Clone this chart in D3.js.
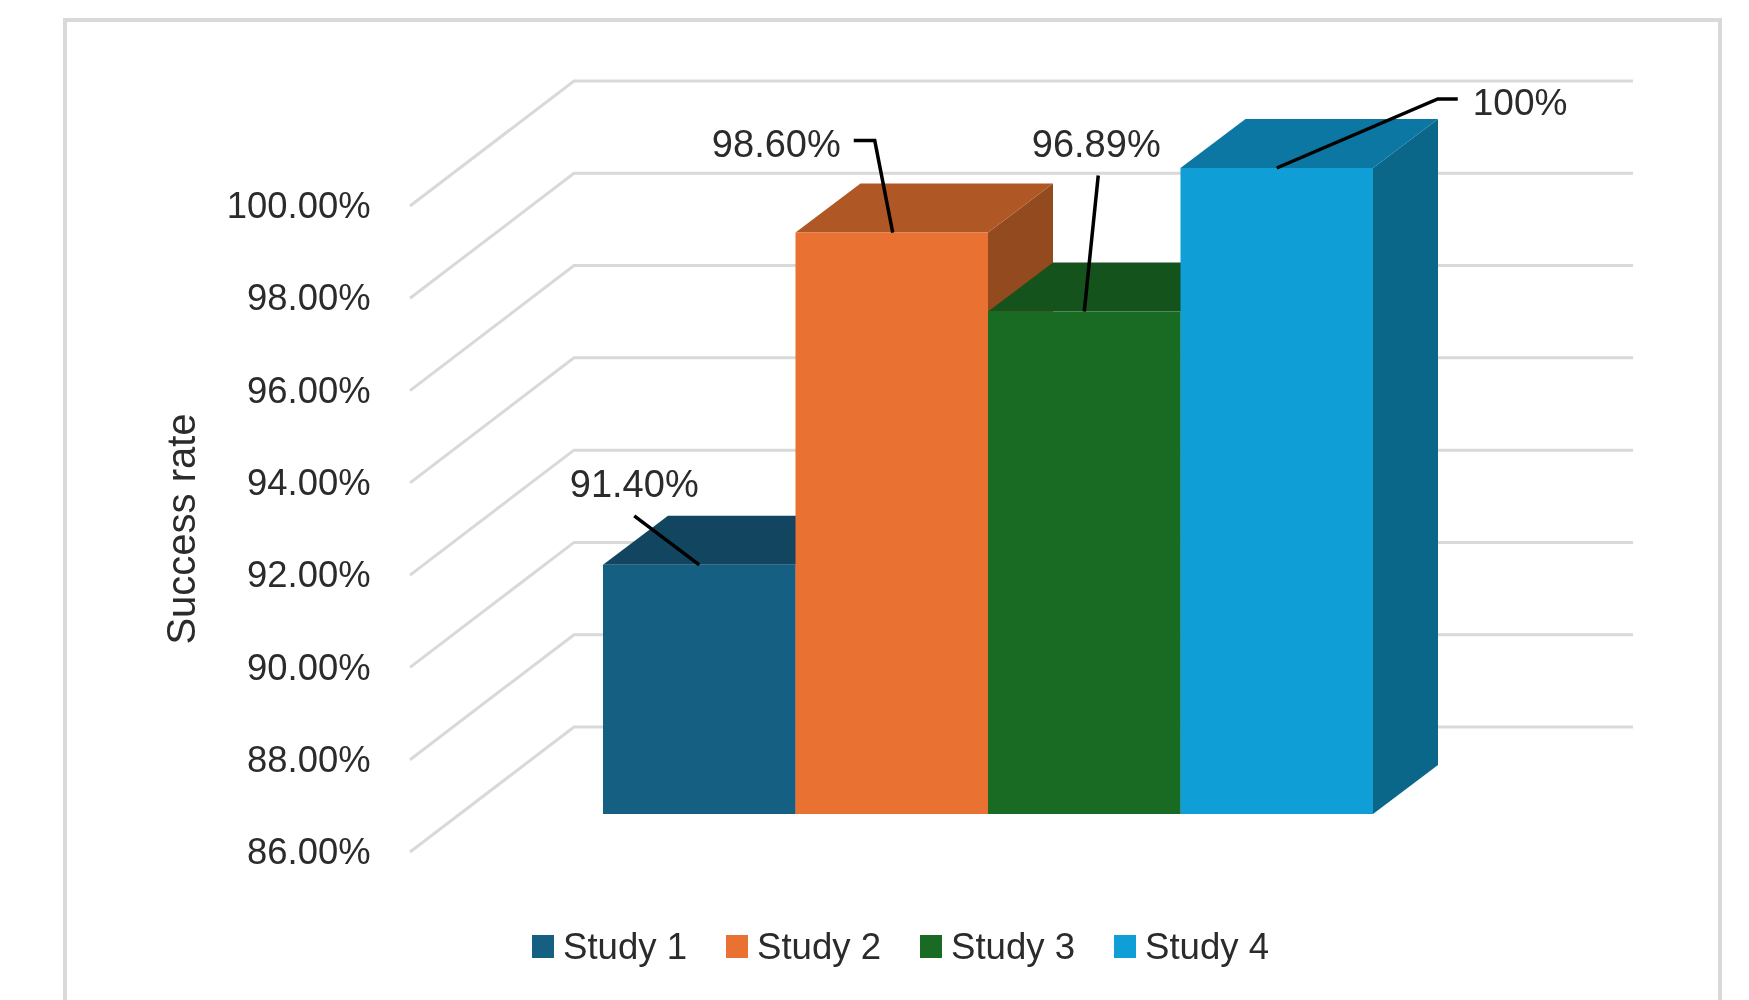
<!DOCTYPE html>
<html><head><meta charset="utf-8">
<script src="https://cdnjs.cloudflare.com/ajax/libs/d3/7.9.0/d3.min.js"></script>
<style>html,body{margin:0;padding:0;background:#fff}svg{display:block;filter:blur(0.6px)}text{font-family:"Liberation Sans",Arial,sans-serif;fill:#2b2b2b}</style>
</head><body><svg id="c" width="1749" height="1000"></svg>
<script>
const studies = ["Study 1","Study 2","Study 3","Study 4"];
const rates = [91.40,98.60,96.89,100];
const rateLabels = ["91.40%","98.60%","96.89%","100%"];
const ticks = [86,88,90,92,94,96,98,100];
const frontColors = ["#156082","#E97132","#196B24","#0F9ED5"];
const topColors = ["#124660","#B05825","#14531C","#0C77A2"];
const sideColors = ["#0F4A63","#944A1F","#114A18","#0A6789"];

const svg = d3.select("#c");
const y = d3.scaleLinear().domain([86,100]).range([814,168]);
const x = d3.scaleBand().domain(studies).range([603,1373]).padding(0);
const depth = {dx:65, dy:-49};
const wall = {frontX:410, frontDy:38, backX:574, backDy:-87, rightX:1633};

svg.append("rect").attr("x",65).attr("y",20).attr("width",1655).attr("height",1100)
  .attr("fill","#fff").attr("stroke","#D9D9D9").attr("stroke-width",4);

const line = d3.line();
svg.append("g").selectAll("path").data(ticks).join("path")
  .attr("fill","none").attr("stroke","#D9D9D9").attr("stroke-width",3)
  .attr("d",t=>line([[wall.frontX,y(t)+wall.frontDy],[wall.backX,y(t)+wall.backDy],[wall.rightX,y(t)+wall.backDy]]));

const axis = d3.axisLeft(y).tickValues(ticks).tickSize(0).tickPadding(39.5).tickFormat(d=>d3.format(".2f")(d)+"%");
const ag = svg.append("g").attr("transform",`translate(${wall.frontX},${wall.frontDy})`).call(axis);
ag.select(".domain").remove();
ag.selectAll("text").attr("font-size",36.4).style("font-family",'"Liberation Sans",Arial,sans-serif').style("fill","#2b2b2b");

svg.append("text").attr("transform","translate(195,529) rotate(-90)").attr("text-anchor","middle")
  .attr("font-size",40).text("Success rate");

const bars = svg.append("g").selectAll("g").data(studies).join("g");
bars.each(function(s,i){
  const g=d3.select(this), x0=x(s), x1=x0+x.bandwidth(), yt=y(rates[i]), yb=y(86), {dx,dy}=depth;
  const poly=(pts,c)=>g.append("polygon").attr("points",pts.map(p=>p.join(",")).join(" ")).attr("fill",c);
  poly([[x1,yt],[x1+dx,yt+dy],[x1+dx,yb+dy],[x1,yb]],sideColors[i]);
  poly([[x0,yt],[x0+dx,yt+dy],[x1+dx,yt+dy],[x1,yt]],topColors[i]);
  poly([[x0,yt],[x1,yt],[x1,yb],[x0,yb]],frontColors[i]);
});

// leader offsets from each bar's top-front centre
const leaders = [
  {path:[[0,0],[-65,-49]], tx:-65, ty:-81, anchor:"middle"},
  {path:[[1,0],[-17,-92],[-38,-92]], tx:-51, ty:-89, anchor:"end"},
  {path:[[0,0],[14,-136]], tx:12, ty:-168, anchor:"middle"},
  {path:[[0,0],[161,-69],[181,-69]], tx:196, ty:-66, anchor:"start"}
];
const lab = svg.append("g");
studies.forEach((s,i)=>{
  const cx=x(s)+x.bandwidth()/2, cy=y(rates[i]), L=leaders[i];
  lab.append("path").attr("fill","none").attr("stroke","#000").attr("stroke-width",3.5)
    .attr("d",line(L.path.map(p=>[cx+p[0],cy+p[1]])));
  lab.append("text").attr("x",cx+L.tx).attr("y",cy+L.ty).attr("dy","0.35em").attr("text-anchor",L.anchor)
    .attr("font-size",i===3?37:38).text(rateLabels[i]);
});

const leg = svg.append("g").selectAll("g").data(studies).join("g")
  .attr("transform",(d,i)=>`translate(${532+i*194},935)`);
leg.append("rect").attr("width",22).attr("height",23).attr("fill",(d,i)=>frontColors[i]);
leg.append("text").attr("x",31).attr("y",11).attr("dy","0.35em").attr("font-size",36.6).text(d=>d);
</script></body></html>
